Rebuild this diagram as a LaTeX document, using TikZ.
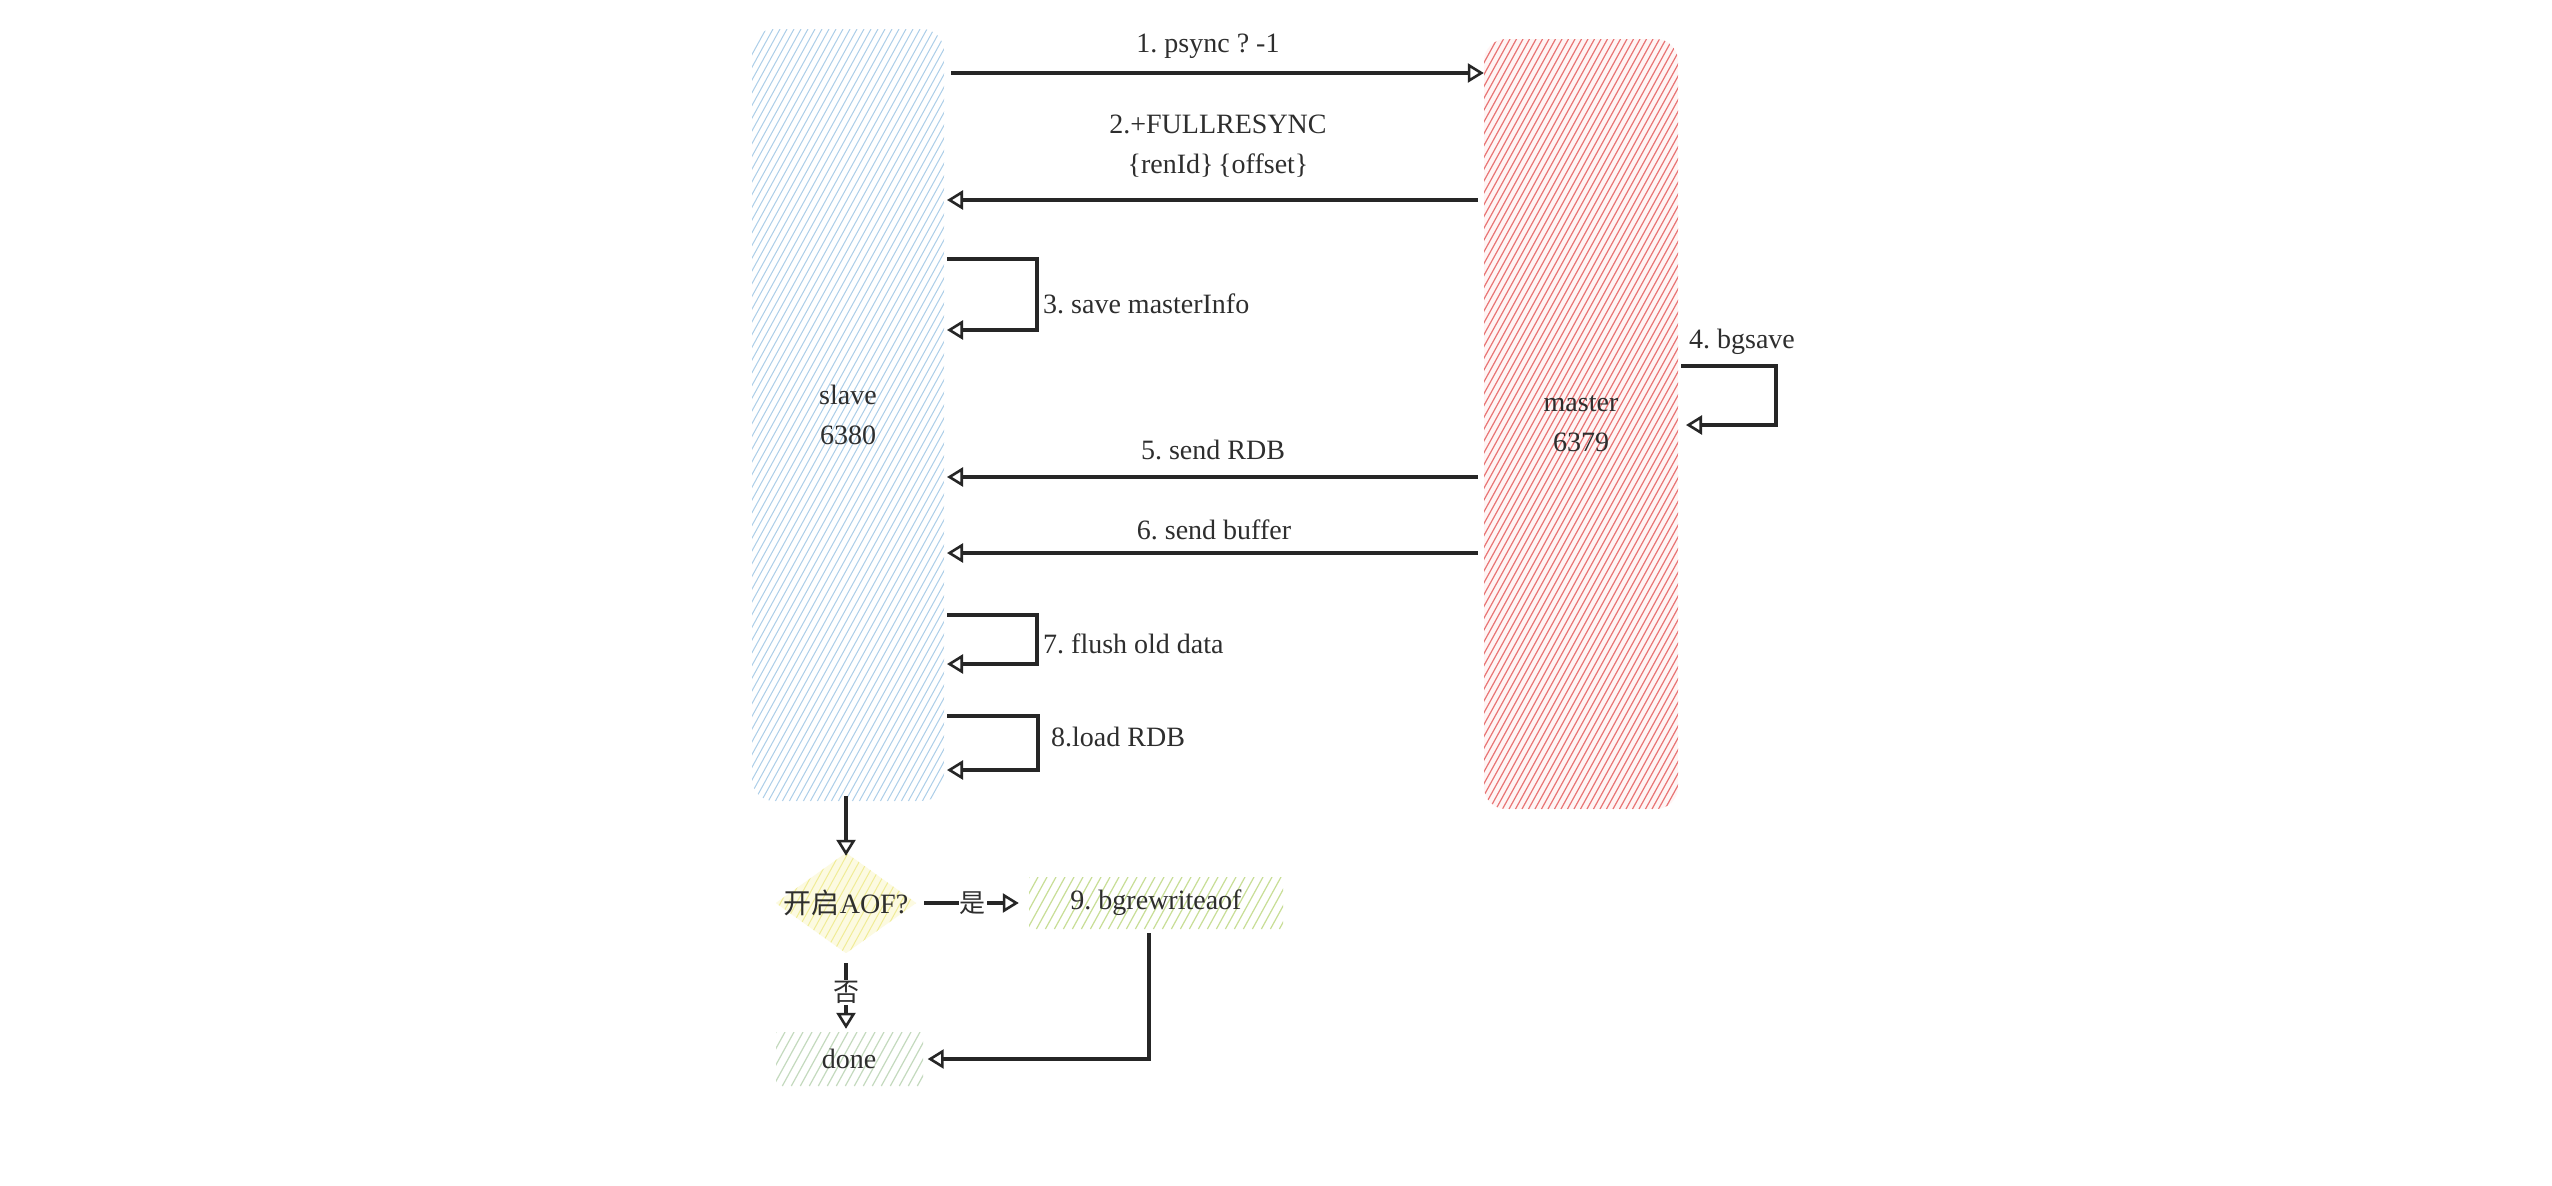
\documentclass[tikz,border=0pt]{standalone}
\usepackage{fontspec}
\setmainfont{Liberation Serif}
\newfontfamily\cjk{Noto Sans CJK SC}
\usetikzlibrary{arrows.meta,shapes.geometric,calc}
\definecolor{txt}{HTML}{2E2E2E}
\definecolor{slavehatch}{RGB}{172,206,232}
\definecolor{masterhatch}{RGB}{232,116,116}
\definecolor{aofhatch}{RGB}{240,236,150}
\definecolor{aoffill}{RGB}{252,250,225}
\definecolor{bghatch}{RGB}{200,222,150}
\definecolor{donehatch}{RGB}{196,218,190}
\newcommand\hatchlines[7]{%
  \pgfmathsetmacro\hh{#4-#2}%
  \pgfmathsetmacro\xs{#1-0.55*\hh}%
  \pgfmathsetmacro\xn{\xs+#6}%
  \foreach \hx in {\xs,\xn,...,#3} \draw[#5, line width=#7] (\hx,#4) -- ++(0.55*\hh,-\hh);%
}
\begin{document}
\frenchspacing
\begin{tikzpicture}[x=1pt,y=-1pt,
  every node/.style={text=txt, font=\fontsize{28}{40}\selectfont},
  arr/.style={draw=black!85, line width=3.2pt, -{Triangle[open,length=16pt,width=19pt,line width=2.6pt]}},
  lbl/.style={inner sep=2pt},
  boxnode/.style={draw=none, inner sep=0pt, align=center}]
\useasboundingbox[fill=white] (0,0) rectangle (2552,1186);

% ---- hatched fills
\begin{scope}
  \clip[rounded corners=22pt] (752,29) rectangle (944,801);
  \hatchlines{752}{29}{944}{801}{slavehatch}{7}{1pt}
\end{scope}
\begin{scope}
  \clip[rounded corners=22pt] (1484,39) rectangle (1678,809);
  \fill[red!4] (1484,39) rectangle (1678,809);
  \hatchlines{1484}{39}{1678}{809}{masterhatch}{6.5}{1.2pt}
\end{scope}

% ---- main nodes
\node[boxnode, minimum width=192pt, minimum height=772pt] (slave) at (848,415) {slave\\6380};
\node[boxnode, minimum width=194pt, minimum height=770pt] (master) at (1581,424) {master\\6379};

% ---- arrows between slave and master
\coordinate (a1s) at (951,73);
\draw[arr] (a1s) -- (master.west |- a1s);
\node[lbl] (l1) at (1208,46) {1. psync ? -1};

\coordinate (a2e) at (947,200);
\draw[arr] ([xshift=-6pt]master.west |- a2e) -- (a2e);
\node[lbl, align=center] (l2) at (1218,146) {2.+FULLRESYNC\\\{renId\}\,\{offset\}};

\coordinate (l3a) at (947,259);
\coordinate (l3b) at (947,330);
\draw[arr] (l3a) -- ++(90,0) |- (l3b);
\node[lbl, anchor=west] (l3) at (1041,304) {3. save masterInfo};

\coordinate (m4a) at (1681,366);
\coordinate (m4b) at (1686,425);
\draw[arr] (m4a) -- ++(95,0) |- (m4b);
\node[lbl] (l4) at (1742,342) {4. bgsave};

\coordinate (a5e) at (947,477);
\draw[arr] ([xshift=-6pt]master.west |- a5e) -- (a5e);
\node[lbl] (l5) at (1213,450) {5. send RDB};

\coordinate (a6e) at (947,553);
\draw[arr] ([xshift=-6pt]master.west |- a6e) -- (a6e);
\node[lbl] (l6) at (1214,530) {6. send buffer};

\coordinate (l7a) at (947,615);
\coordinate (l7b) at (947,664);
\draw[arr] (l7a) -- ++(90,0) |- (l7b);
\node[lbl, anchor=west] (l7) at (1041,644) {7. flush old data};

\coordinate (l8a) at (947,716);
\coordinate (l8b) at (947,770);
\draw[arr] (l8a) -- ++(91,0) |- (l8b);
\node[lbl, anchor=west] (l8) at (1049,737) {8.load RDB};

% ---- lower flow
\node[diamond, draw=none, minimum width=140pt, minimum height=100pt, inner sep=0pt] (aof) at (846,903) {};
\begin{scope}
  \clip (aof.north) -- (aof.east) -- (aof.south) -- (aof.west) -- cycle;
  \fill[aoffill] (776,853) rectangle (916,953);
  \hatchlines{776}{853}{916}{953}{aofhatch}{8}{1pt}
\end{scope}
\node[lbl] (aoftxt) at (aof) {{\cjk 开启}AOF?};

\node[boxnode, minimum width=254pt, minimum height=52pt] (b9) at (1156,903) {};
\begin{scope}
  \clip (1029,877) rectangle (1283,929);
  \hatchlines{1029}{877}{1283}{929}{bghatch}{9}{1.2pt}
\end{scope}
\node[lbl] (b9txt) at (b9) {9. bgrewriteaof};

\node[boxnode, minimum width=147pt, minimum height=54pt] (done) at (849,1059) {};
\begin{scope}
  \clip (776,1032) rectangle (923,1086);
  \hatchlines{776}{1032}{923}{1086}{donehatch}{9}{1.2pt}
\end{scope}
\node[lbl] (donetxt) at (done) {done};

\draw[arr] ([yshift=5pt]slave.south -| aof.north) -- ([yshift=-3pt]aof.north);
\draw[arr, shorten <=8pt, shorten >=10pt] (aof.east) -- (b9.west)
  node[midway, fill=white, inner sep=1pt, font=\cjk\fontsize{26}{32}\selectfont] (yes) {是};
\draw[arr, shorten <=10pt, shorten >=3pt] (aof.south) -- (aof.south |- done.north)
  node[midway, fill=white, inner sep=1pt, font=\cjk\fontsize{26}{32}\selectfont] (no) {否};
\draw[arr, shorten <=4pt, shorten >=5pt] ([xshift=-7pt]b9.south) |- (done.east);
\end{tikzpicture}
\end{document}
